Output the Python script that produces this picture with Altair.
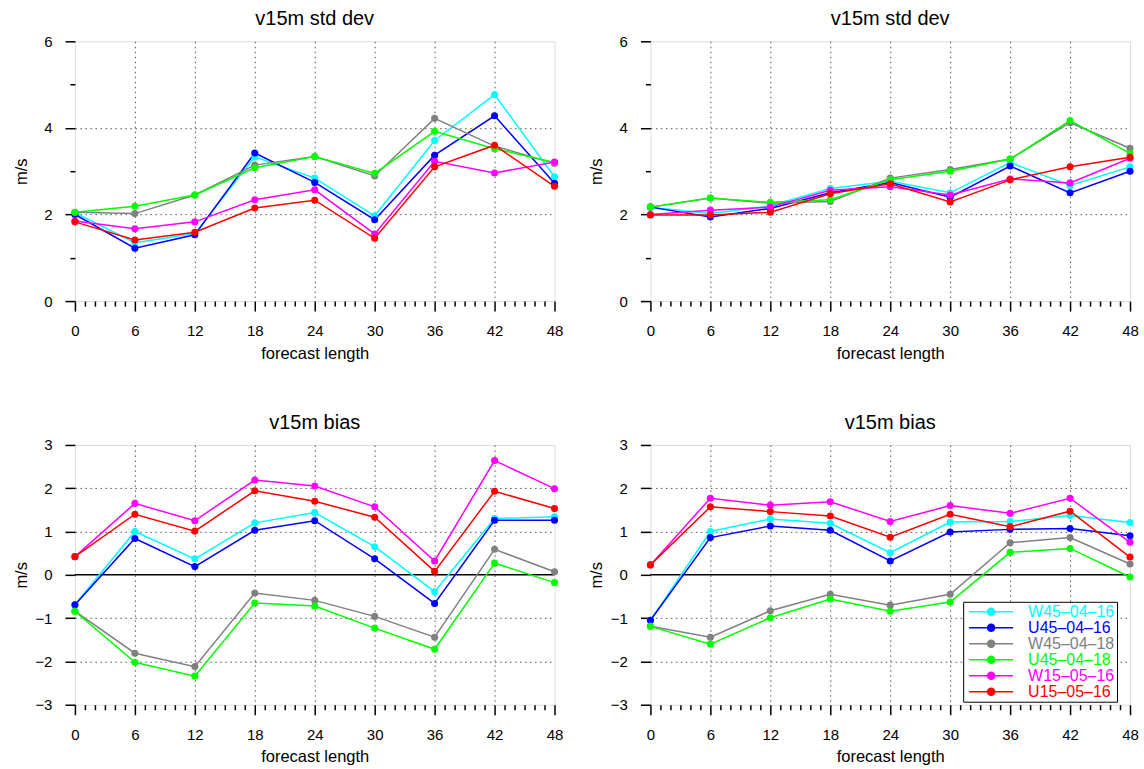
import altair as alt
import pandas as pd

LEAD = [0, 6, 12, 18, 24, 30, 36, 42, 48]
SERIES = ["W45–04–16", "U45–04–16", "W45–04–18", "U45–04–18", "W15–05–16", "U15–05–16"]
COLORS = ["#00ffff", "#0000ff", "#808080", "#00ff00", "#ff00ff", "#ff0000"]

# top-left: v15m std dev
SD_L_W45_04_16 = [2.04, 1.35, 1.56, 3.33, 2.84, 1.97, 3.71, 4.77, 2.87]
SD_L_U45_04_16 = [2.00, 1.22, 1.53, 3.42, 2.74, 1.88, 3.37, 4.28, 2.72]
SD_L_W45_04_18 = [2.05, 2.02, 2.45, 3.14, 3.34, 2.89, 4.22, 3.58, 3.18]
SD_L_U45_04_18 = [2.05, 2.19, 2.45, 3.08, 3.34, 2.95, 3.92, 3.52, 3.20]
SD_L_W15_05_16 = [1.85, 1.67, 1.83, 2.34, 2.57, 1.55, 3.23, 2.96, 3.21]
SD_L_U15_05_16 = [1.83, 1.41, 1.59, 2.15, 2.33, 1.45, 3.10, 3.60, 2.65]

# top-right: v15m std dev
SD_R_W45_04_16 = [2.17, 2.02, 2.20, 2.60, 2.77, 2.50, 3.20, 2.67, 3.10]
SD_R_U45_04_16 = [2.17, 1.94, 2.14, 2.50, 2.74, 2.40, 3.12, 2.50, 3.00]
SD_R_W45_04_18 = [2.17, 2.38, 2.26, 2.30, 2.84, 3.04, 3.28, 4.12, 3.53]
SD_R_U45_04_18 = [2.17, 2.38, 2.28, 2.34, 2.80, 3.00, 3.28, 4.17, 3.41]
SD_R_W15_05_16 = [2.00, 2.10, 2.17, 2.56, 2.64, 2.45, 2.82, 2.73, 3.30]
SD_R_U15_05_16 = [1.99, 1.99, 2.05, 2.48, 2.71, 2.29, 2.80, 3.10, 3.32]

# bottom-left: v15m bias
BI_L_W45_04_16 = [-0.69, 1.00, 0.37, 1.20, 1.44, 0.65, -0.39, 1.30, 1.34]
BI_L_U45_04_16 = [-0.69, 0.84, 0.19, 1.03, 1.25, 0.37, -0.66, 1.26, 1.26]
BI_L_W45_04_18 = [-0.84, -1.81, -2.12, -0.42, -0.59, -0.96, -1.44, 0.59, 0.07]
BI_L_U45_04_18 = [-0.84, -2.02, -2.34, -0.65, -0.72, -1.23, -1.72, 0.27, -0.18]
BI_L_W15_05_16 = [0.42, 1.65, 1.25, 2.19, 2.05, 1.57, 0.32, 2.64, 1.99]
BI_L_U15_05_16 = [0.42, 1.40, 1.01, 1.94, 1.70, 1.33, 0.08, 1.93, 1.53]

# bottom-right: v15m bias
BI_R_W45_04_16 = [-1.05, 1.00, 1.29, 1.19, 0.51, 1.22, 1.23, 1.37, 1.21]
BI_R_U45_04_16 = [-1.05, 0.86, 1.13, 1.03, 0.32, 0.99, 1.05, 1.07, 0.90]
BI_R_W45_04_18 = [-1.19, -1.44, -0.83, -0.45, -0.70, -0.45, 0.74, 0.86, 0.25]
BI_R_U45_04_18 = [-1.19, -1.60, -0.99, -0.56, -0.84, -0.63, 0.52, 0.61, -0.05]
BI_R_W15_05_16 = [0.23, 1.77, 1.61, 1.69, 1.23, 1.60, 1.42, 1.77, 0.75]
BI_R_U15_05_16 = [0.23, 1.57, 1.46, 1.36, 0.87, 1.40, 1.11, 1.47, 0.41]

X_TICKS = list(range(0, 49))
SD_TICKS = [i * 0.5 for i in range(0, 13)]
BI_TICKS = [i * 0.5 - 3 for i in range(0, 13)]

FONT = "Liberation Sans"
LEGEND_SYMBOL = "M-4.4,0H4.4M-0.7,0A0.7,0.7,0,1,1,0.7,0A0.7,0.7,0,1,1,-0.7,0Z"


def long_df(cols):
    rows = []
    for name, vals in zip(SERIES, cols):
        for fl, v in zip(LEAD, vals):
            rows.append({"fl": fl, "v": v, "series": name})
    return pd.DataFrame(rows)


def panel(cols, title, ydom, yticks, ymajor_test, ygrid_test, zero_line):
    df = long_df(cols)
    xaxis = alt.Axis(
        values=X_TICKS,
        title="forecast length",
        format="d",
        labelExpr="datum.value % 6 === 0 ? datum.label : ''",
        tickSize={"condition": {"test": "datum.value % 6 === 0", "value": 10}, "value": 5},
        tickWidth=1.5, tickColor="black",
        grid=True,
        gridOpacity={"condition": {"test": "datum.value % 6 === 0 && datum.value > 0 && datum.value < 48", "value": 1}, "value": 0},
        gridDash=[1.5, 3.5], gridColor="#555555", gridWidth=1,
        domain=False,
        labelPadding=12.5, labelFontSize=15, labelFont=FONT, labelColor="black",
        labelFlush=False, labelOverlap=False,
        titleFontSize=16.5, titleFont=FONT, titleFontWeight="normal", titleColor="black",
        minExtent=30, maxExtent=30, titlePadding=14,
    )
    yaxis = alt.Axis(
        values=yticks,
        title="m/s",
        format="d",
        labelExpr=f"({ymajor_test}) ? datum.label : ''",
        tickSize={"condition": {"test": ymajor_test, "value": 10}, "value": 5},
        tickWidth=1.5, tickColor="black",
        grid=True,
        gridOpacity={"condition": {"test": ygrid_test, "value": 1}, "value": 0},
        gridDash=[1.5, 3.5], gridColor="#555555", gridWidth=1,
        domain=False,
        labelPadding=13, labelFontSize=15, labelFont=FONT, labelColor="black",
        labelFlush=False, labelOverlap=False,
        titleFontSize=16.5, titleFont=FONT, titleFontWeight="normal", titleColor="black",
        minExtent=30, maxExtent=30, titlePadding=15.5,
    )
    x_enc = alt.X("fl:Q", scale=alt.Scale(domain=[0, 48], nice=False, zero=False), axis=xaxis)
    y_enc = alt.Y("v:Q", scale=alt.Scale(domain=ydom, nice=False, zero=False), axis=yaxis)
    legend = alt.Legend(
        orient="none", legendX=889, legendY=561, title=None,
        symbolType=LEGEND_SYMBOL, symbolSize=100, symbolStrokeWidth=1.5,
        symbolFillColor=alt.ExprRef("scale('color', datum.value)"),
        symbolStrokeColor=alt.ExprRef("scale('color', datum.value)"),
        symbolOpacity=1, symbolOffset=18,
        labelColor=alt.ExprRef("scale('color', datum.value)"),
        labelFontSize=16, labelFont=FONT, labelOffset=29, labelLimit=0,
        rowPadding=-2, padding=2,
        strokeColor="black", fillColor="white", cornerRadius=0,
    )
    c_enc = alt.Color("series:N", scale=alt.Scale(domain=SERIES, range=COLORS), legend=legend,
                      sort=SERIES)
    base = alt.Chart(df)
    lines = base.mark_line(strokeWidth=1.5).encode(x=x_enc, y=y_enc, color=c_enc)
    points = base.mark_point(filled=True, size=50, opacity=1).encode(x=x_enc, y=y_enc, color=c_enc)
    layers = []
    if zero_line:
        zdf = pd.DataFrame({"v": [0]})
        layers.append(alt.Chart(zdf).mark_rule(color="black", strokeWidth=1.5).encode(y=y_enc))
    layers += [lines, points]
    return alt.layer(*layers).properties(
        width=480, height=260,
        title=alt.TitleParams(title, fontSize=20, font=FONT, fontWeight="normal",
                              baseline="alphabetic", offset=-11, anchor="middle", color="black"),
    )


SD_MAJOR = "datum.value % 2 === 0"
SD_GRID = "datum.value % 2 === 0 && datum.value > 0 && datum.value < 6"
BI_MAJOR = "datum.value % 1 === 0"
BI_GRID = "datum.value % 1 === 0 && datum.value !== 0 && abs(datum.value) < 3"

p1 = panel([SD_L_W45_04_16, SD_L_U45_04_16, SD_L_W45_04_18, SD_L_U45_04_18, SD_L_W15_05_16, SD_L_U15_05_16],
           "v15m std dev", [0, 6], SD_TICKS, SD_MAJOR, SD_GRID, False)
p2 = panel([SD_R_W45_04_16, SD_R_U45_04_16, SD_R_W45_04_18, SD_R_U45_04_18, SD_R_W15_05_16, SD_R_U15_05_16],
           "v15m std dev", [0, 6], SD_TICKS, SD_MAJOR, SD_GRID, False)
p3 = panel([BI_L_W45_04_16, BI_L_U45_04_16, BI_L_W45_04_18, BI_L_U45_04_18, BI_L_W15_05_16, BI_L_U15_05_16],
           "v15m bias", [-3, 3], BI_TICKS, BI_MAJOR, BI_GRID, True)
p4 = panel([BI_R_W45_04_16, BI_R_U45_04_16, BI_R_W45_04_18, BI_R_U45_04_18, BI_R_W15_05_16, BI_R_U15_05_16],
           "v15m bias", [-3, 3], BI_TICKS, BI_MAJOR, BI_GRID, True)

chart = alt.concat(
    p1, p2, p3, p4, columns=2, spacing={"row": 144, "column": 96}, bounds="flush"
).resolve_scale(color="shared").properties(
    padding={"left": 13, "top": 8, "right": 5, "bottom": 5},
    background="white",
).configure_view(
    stroke="black", strokeWidth=1.6
).configure_legend(
    strokeWidth=2
).configure(font=FONT)

chart.save("out.html", embed_options={"renderer": "svg", "actions": False})
